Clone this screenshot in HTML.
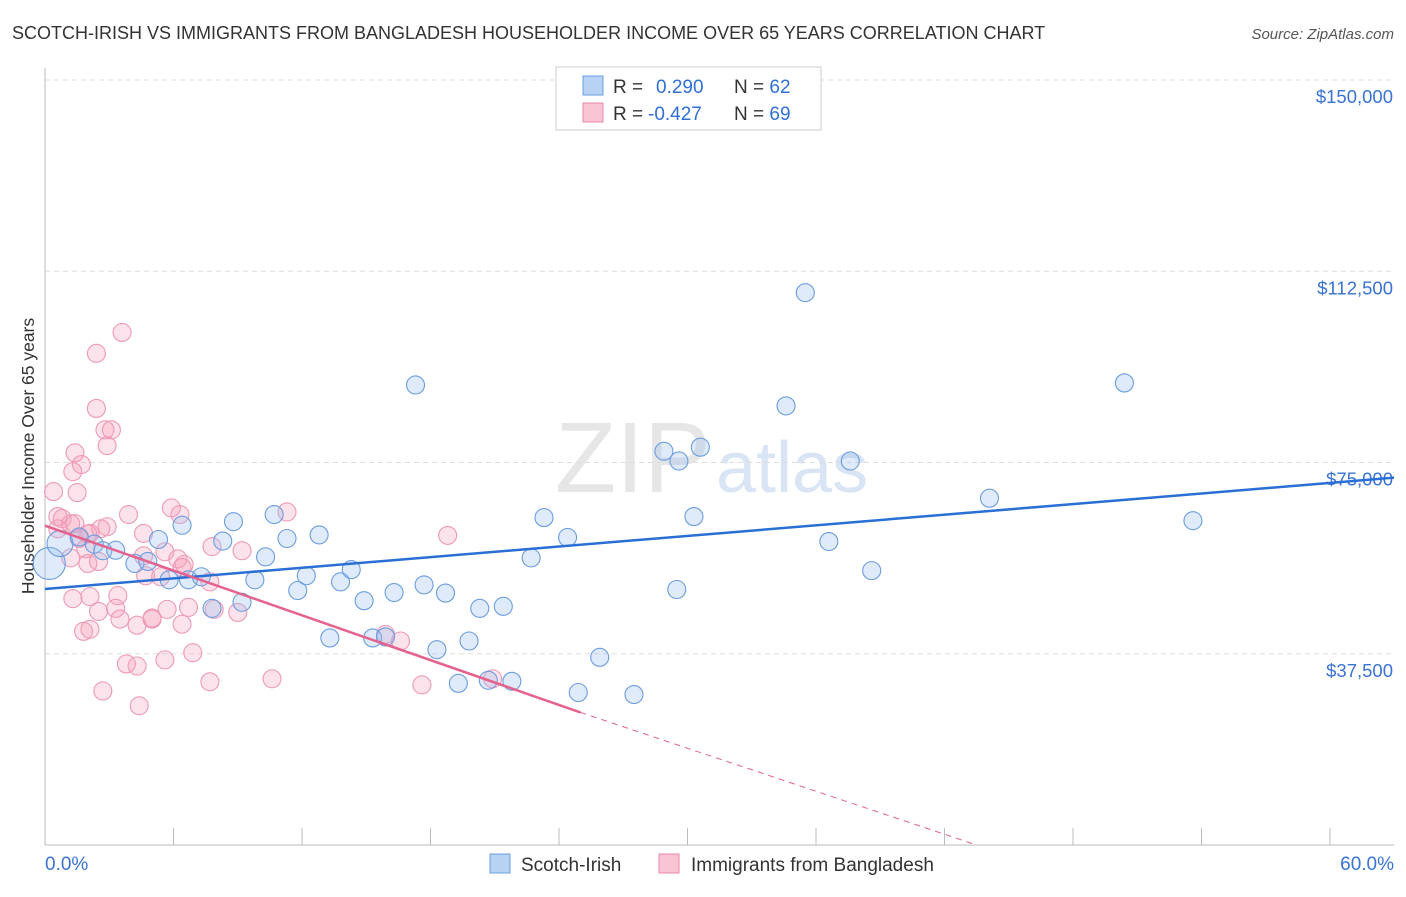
<!DOCTYPE html>
<html><head><meta charset="utf-8"><style>
body{margin:0;background:#fff;font-family:"Liberation Sans",sans-serif}
svg text{font-family:"Liberation Sans",sans-serif}
</style></head><body>
<svg id="c" width="1406" height="892" xmlns="http://www.w3.org/2000/svg">
<text x="12" y="39" font-size="18" fill="#333">SCOTCH-IRISH VS IMMIGRANTS FROM BANGLADESH HOUSEHOLDER INCOME OVER 65 YEARS CORRELATION CHART</text>
<text x="1394" y="39" font-size="15" fill="#555" font-style="italic" text-anchor="end">Source: ZipAtlas.com</text>
<text x="0" y="0" font-size="17.5" fill="#333" text-anchor="middle" transform="translate(34,456) rotate(-90)">Householder Income Over 65 years</text>
<text x="555" y="492" font-size="100" fill="#e6e6e6" font-family="Liberation Serif">ZIP</text>
<text x="716" y="492" font-size="72" fill="#d9e4f4">atlas</text>
<g id="grid"></g><g id="ax"></g><g id="pts"></g><g id="lines"></g>
<g>
<rect x="556" y="67" width="265" height="63" fill="#fff" stroke="#ccc"/>
<rect x="583" y="76" width="20" height="19" fill="#b8d2f3" stroke="#6a9de0"/>
<rect x="583" y="103" width="20" height="19" fill="#f9c4d3" stroke="#ea8aa8"/>
<text x="613" y="93" font-size="19" fill="#333">R = <tspan x="656" fill="#2f6fd6">0.290</tspan><tspan x="734">N = </tspan><tspan fill="#2f6fd6">62</tspan></text>
<text x="613" y="120" font-size="19" fill="#333">R = <tspan x="648" fill="#2f6fd6">-0.427</tspan><tspan x="734">N = </tspan><tspan fill="#2f6fd6">69</tspan></text>
</g>
<g>
<rect x="490" y="854" width="20" height="19" fill="#b8d2f3" stroke="#6a9de0"/>
<text x="521" y="871" font-size="19" fill="#333">Scotch-Irish</text>
<rect x="659" y="854" width="20" height="19" fill="#f9c4d3" stroke="#ea8aa8"/>
<text x="691" y="871" font-size="19" fill="#333">Immigrants from Bangladesh</text>
</g>
</svg>
<script>
const yTicks=[37500,75000,112500,150000];
const yTickLabels=["$37,500","$75,000","$112,500","$150,000"];
const blueX=[0.2,0.7,1.6,2.3,2.7,3.3,4.2,4.8,5.3,5.8,6.4,6.7,7.3,7.8,8.3,8.8,9.2,9.8,10.3,10.7,11.3,11.8,12.2,12.8,13.3,13.8,14.3,14.9,15.3,15.9,16.3,17.3,17.7,18.3,18.7,19.3,19.8,20.3,20.7,21.4,21.8,22.7,23.3,24.4,24.9,25.9,27.5,28.9,29.5,29.6,30.3,30.6,34.6,35.5,36.6,37.6,38.6,44.1,50.4,53.6];
const blueY=[55200,59100,60400,59000,57700,57800,55200,55600,59900,52000,62700,52000,52600,46400,59600,63400,47600,52000,56500,64800,60100,49900,52800,60800,40600,51600,54000,47900,40600,40800,49500,90200,51000,38300,49400,31700,40000,46400,32300,46800,32100,56300,64200,60300,29900,36800,29500,77200,50100,75300,64400,78000,86100,108300,59500,75300,53800,68000,90600,63600];
const blueR=[16,13,9,9,9,9,9,9,9,9,9,9,9,9,9,9,9,9,9,9,9,9,9,9,9,9,9,9,9,9,9,9,9,9,9,9,9,9,9,9,9,9,9,9,9,9,9,9,9,9,9,9,9,9,9,9,9,9,9,9];
const pinkX=[3.6,2.4,2.4,2.8,3.1,2.9,1.4,1.7,1.3,1.5,0.4,0.6,0.6,0.8,1.2,1.4,1.6,2.1,2.6,2.9,1.9,2.0,2.5,1.2,3.9,5.9,4.6,5.6,6.2,7.8,9.2,11.3,4.6,4.7,5.4,6.4,6.5,7.7,7.9,9.0,1.3,2.1,3.4,3.3,2.5,1.8,2.1,3.5,4.3,5.0,5.7,6.7,6.4,5.0,3.8,4.3,5.6,6.9,2.7,4.4,7.7,10.6,18.8,15.9,16.6,17.6,20.9,6.3,2.0];
const pinkY=[100500,96400,85600,81400,81400,78300,76900,74600,73200,69100,69300,64400,62000,64000,63000,63000,60100,61100,62000,62400,58100,55200,55600,56300,64800,66100,61100,57500,56100,58500,57700,65300,56700,52800,52600,54400,55000,51600,46200,45600,48300,48700,48900,46400,45800,41900,42300,44300,43100,44300,46200,46600,43300,44500,35500,35100,36300,37700,30200,27300,32000,32600,60700,41300,40000,31400,32600,64800,61000];
const blueLine=[[0,50200],[60,71000]];
const pinkLine=[[0,62600],[25,26000],[43.5,0]];
const X0=45,X1=1330,YB=845,YT=80;
const xs=p=>X0+(p/60)*(X1-X0);
const ys=v=>YB-(v/150000)*(YB-YT);
const NS="http://www.w3.org/2000/svg";
function mk(t,a,p){const e=document.createElementNS(NS,t);for(const k in a)e.setAttribute(k,a[k]);p.appendChild(e);return e;}
const grid=document.getElementById('grid'),ax=document.getElementById('ax'),pts=document.getElementById('pts'),ln=document.getElementById('lines');
yTicks.forEach((v,i)=>{
 const g=mk('line',{x1:45,x2:1394,y1:ys(v),y2:ys(v),stroke:'#ddd','stroke-dasharray':'5,4'},grid);
 
 
 const t=mk('text',{x:1393,y:ys(v)+23,'font-size':18.5,fill:'#3a73d3','text-anchor':'end'},ax);
 t.textContent=yTickLabels[i];
 
 
});
const a1=mk('line',{x1:45,x2:45,y1:68,y2:845,stroke:'#bbb'},ax);


const a2=mk('line',{x1:45,x2:1394,y1:845,y2:845,stroke:'#bbb'},ax);


for(let i=0;i<=10;i++){const tk=mk('line',{x1:xs(i*6),x2:xs(i*6),y1:828,y2:845,stroke:'#bbb'},ax);
 
 }
const xl=mk('text',{x:45,y:870,'font-size':19,fill:'#3a73d3'},ax);xl.textContent='0.0%';


const xr=mk('text',{x:1394,y:870,'font-size':19,fill:'#3a73d3','text-anchor':'end'},ax);xr.textContent='60.0%';


pinkX.forEach((x,i)=>{const c=mk('circle',{cx:xs(x),cy:ys(pinkY[i]),r:9,fill:'rgba(244,160,186,0.3)',stroke:'#ee9ab6','stroke-width':1.1},pts);
 
 });
blueX.forEach((x,i)=>{const c=mk('circle',{cx:xs(x),cy:ys(blueY[i]),r:blueR[i],fill:'rgba(150,190,240,0.3)',stroke:'#6b9de0','stroke-width':1.1},pts);
 
 });
const bl=mk('line',{x1:xs(blueLine[0][0]),y1:ys(blueLine[0][1]),x2:xs(blueLine[1][0])+64,y2:ys(blueLine[1][1]+ (blueLine[1][1]-blueLine[0][1])/60*3),stroke:'#2a6fd6','stroke-width':2.5},ln);


const pl=mk('line',{x1:xs(pinkLine[0][0]),y1:ys(pinkLine[0][1]),x2:xs(pinkLine[1][0]),y2:ys(pinkLine[1][1]),stroke:'#e4628d','stroke-width':2.5},ln);


const pd=mk('line',{x1:xs(pinkLine[1][0]),y1:ys(pinkLine[1][1]),x2:xs(pinkLine[2][0]),y2:ys(pinkLine[2][1]),stroke:'#e4628d','stroke-width':1,'stroke-dasharray':'6,5'},ln);


</script>
</body></html>
